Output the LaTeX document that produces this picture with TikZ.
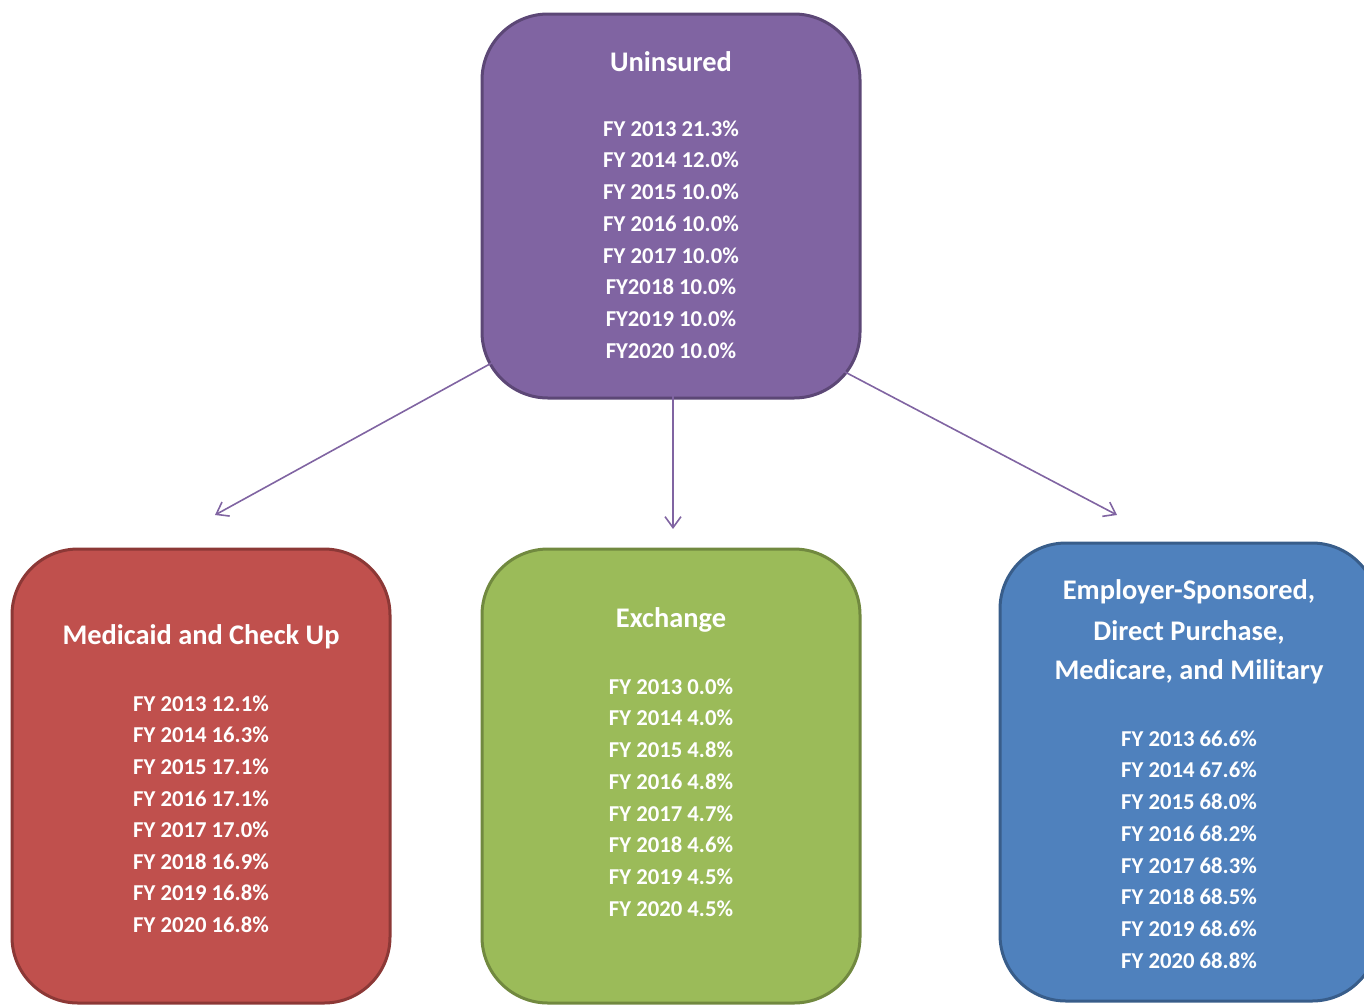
\documentclass[tikz,border=0pt]{standalone}
\usepackage{fontspec}
\setmainfont{Carlito}
\usetikzlibrary{arrows.meta}
\definecolor{pfill}{HTML}{8064A2}
\definecolor{pline}{HTML}{5C4776}
\definecolor{rfill}{HTML}{C0504D}
\definecolor{rline}{HTML}{8C3836}
\definecolor{gfill}{HTML}{9BBB59}
\definecolor{gline}{HTML}{71893F}
\definecolor{bfill}{HTML}{4F81BD}
\definecolor{bline}{HTML}{385D8A}
\tikzset{
  box/.style={rounded corners=66pt, line width=3pt, minimum width=378pt, inner sep=0pt},
  ttl/.style={text=white, font=\bfseries\fontsize{28.4}{40}\selectfont, align=center, inner sep=0pt},
  ent/.style={text=white, font=\bfseries\fontsize{22.7}{26}\selectfont, inner sep=0pt},
  conn/.style={draw=pfill, line width=1.6pt, -{Straight Barb[length=11pt,width=16pt,line width=1.6pt]}}
}
\begin{document}
\begin{tikzpicture}[x=1pt,y=-1pt]
\useasboundingbox (0,0) rectangle (1364,1004);
% boxes
\node[box, fill=pfill, draw=pline, minimum height=384pt] (unins) at (671,206) {};
\node[box, fill=rfill, draw=rline, minimum height=454pt] (medic) at (201,776) {};
\node[box, fill=gfill, draw=gline, minimum height=454pt] (exch) at (671,776) {};
\node[box, fill=bfill, draw=bline, minimum height=458pt] (empl) at (1189,772) {};
% titles
\node[ttl] (t1) at (671,62) {Uninsured};
\node[ttl] (t2) at (201,637) {Medicaid and Check Up};
\node[ttl] (t3) at (671,620) {Exchange};
\node[ttl] (t4a) at (1189,592) {Employer-Sponsored,};
\node[ttl] (t4b) at (1189,632) {Direct Purchase,};
\node[ttl] (t4c) at (1189,672) {Medicare, and Military};
% entries
\foreach \t [count=\i] in {FY 2013 21.3\%,FY 2014 12.0\%,FY 2015 10.0\%,FY 2016 10.0\%,FY 2017 10.0\%,FY2018 10.0\%,FY2019 10.0\%,FY2020 10.0\%}
  \node[ent] (u\i) at (671,{128.5+31.7*(\i-1)}) {\t};
\foreach \t [count=\i] in {FY 2013 12.1\%,FY 2014 16.3\%,FY 2015 17.1\%,FY 2016 17.1\%,FY 2017 17.0\%,FY 2018 16.9\%,FY 2019 16.8\%,FY 2020 16.8\%}
  \node[ent] (m\i) at (201,{703.5+31.6*(\i-1)}) {\t};
\foreach \t [count=\i] in {FY 2013 0.0\%,FY 2014 4.0\%,FY 2015 4.8\%,FY 2016 4.8\%,FY 2017 4.7\%,FY 2018 4.6\%,FY 2019 4.5\%,FY 2020 4.5\%}
  \node[ent] (x\i) at (671,{686.5+31.7*(\i-1)}) {\t};
\foreach \t [count=\i] in {FY 2013 66.6\%,FY 2014 67.6\%,FY 2015 68.0\%,FY 2016 68.2\%,FY 2017 68.3\%,FY 2018 68.5\%,FY 2019 68.6\%,FY 2020 68.8\%}
  \node[ent] (e\i) at (1189,{738.5+31.7*(\i-1)}) {\t};
% connectors
\coordinate (s1) at (508,354);
\coordinate (e1) at (215,515);
\coordinate (s2) at (673,372);
\coordinate (e2) at (673,529);
\coordinate (s3) at (826,362);
\coordinate (e3) at (1117,515);
\draw[conn] (s1) -- (e1);
\draw[conn] (s2) -- (e2);
\draw[conn] (s3) -- (e3);
\end{tikzpicture}
\end{document}
